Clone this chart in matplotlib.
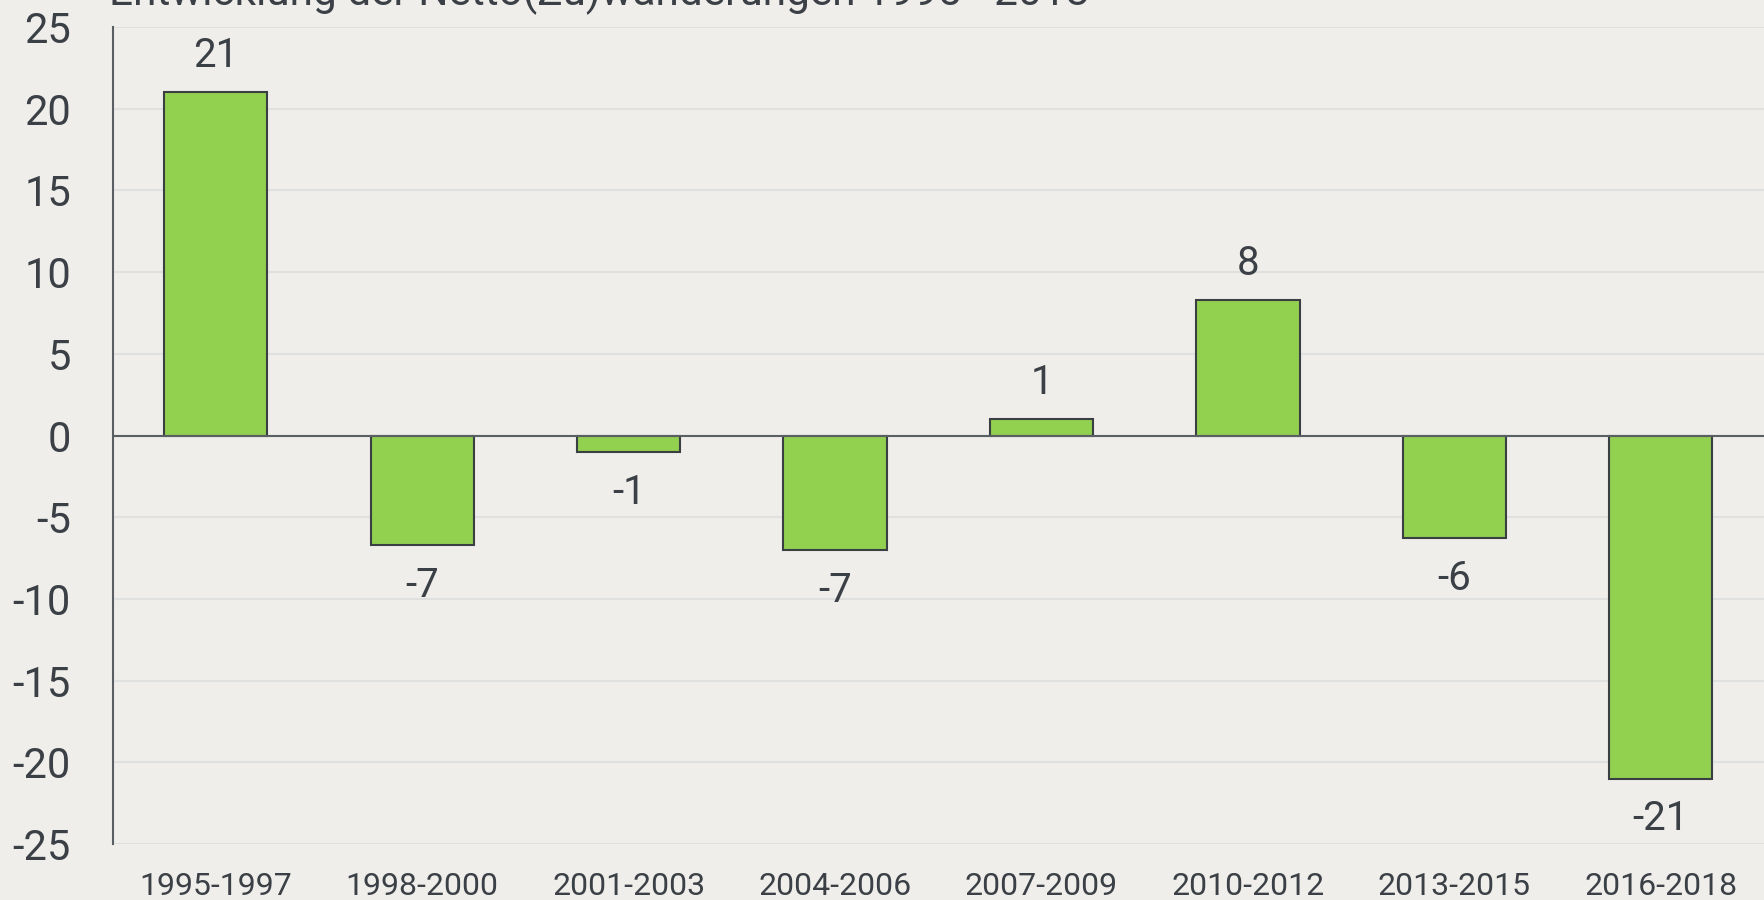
import matplotlib
matplotlib.use("Agg")
import matplotlib.pyplot as plt

categories = ["1995-1997", "1998-2000", "2001-2003", "2004-2006",
              "2007-2009", "2010-2012", "2013-2015", "2016-2018"]
values = [21.0, -6.7, -1.0, -7.0, 1.0, 8.3, -6.3, -21.0]
labels = ["21", "-7", "-1", "-7", "1", "8", "-6", "-21"]
yticks = [-25, -20, -15, -10, -5, 0, 5, 10, 15, 20, 25]
title = "Entwicklung der Netto(Zu)wanderungen 1995 - 2018"

plt.rcParams['font.family'] = ['Roboto', 'DejaVu Sans']
bg = "#EFEEEA"
txt = "#3B4046"

fig = plt.figure(figsize=(17.64, 9.0), dpi=100, facecolor=bg)
ax = fig.add_axes([0.0638, 0.0622, 0.9362, 0.9078], facecolor=bg)

x = list(range(len(categories)))
ax.bar(x, values, width=0.5, color="#92D050", edgecolor="#3A3F44", linewidth=1.5, zorder=3)

ax.set_xlim(-0.5, len(categories) - 0.5)
ax.set_ylim(-25, 25)
ax.set_yticks(yticks)
ax.set_yticklabels([str(t) for t in yticks])
ax.set_xticks(x)
ax.set_xticklabels(categories)

ax.grid(axis="y", color="#DFE1E1", linewidth=1.5, zorder=0)
ax.axhline(0, color="#5A5F63", linewidth=1.5, zorder=4)

for s in ["top", "right", "bottom"]:
    ax.spines[s].set_visible(False)
ax.spines["left"].set_color("#5A5F63")
ax.spines["left"].set_linewidth(1.5)

ax.tick_params(axis="y", length=0, pad=30, labelsize=30, labelcolor=txt)
ax.tick_params(axis="x", length=0, pad=20, labelsize=23, labelcolor=txt)

for xi, v, lab in zip(x, values, labels):
    if v >= 0:
        ax.annotate(lab, (xi, v), xytext=(0, 12.5), textcoords="offset points",
                    ha="center", va="bottom", fontsize=29, color=txt)
    else:
        ax.annotate(lab, (xi, v), xytext=(0, -15), textcoords="offset points",
                    ha="center", va="top", fontsize=29, color=txt)

fig.text(0.062, 1.0 - 5 / 900, title, ha="left", va="baseline", fontsize=30.5, color=txt)

fig.savefig("out.png", dpi=100, facecolor=bg)
